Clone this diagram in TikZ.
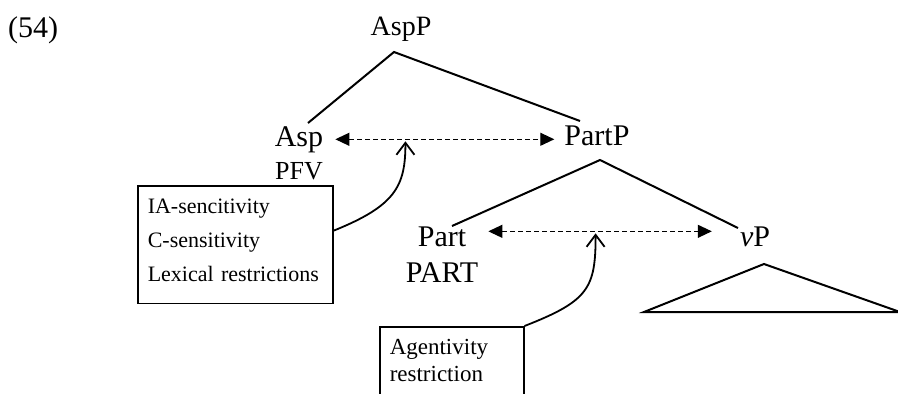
\documentclass[tikz,border=0pt]{standalone}
\usepackage{fontspec}
\setmainfont{Liberation Serif}
\usetikzlibrary{arrows.meta}

\begin{document}
\begin{tikzpicture}[x=1pt, y=-1pt,
    lbl/.style={anchor=base, inner sep=0pt},
    big/.style={font=\fontsize{30}{30}\selectfont},
    mid/.style={font=\fontsize{26}{26}\selectfont},
    branch/.style={line width=2pt},
    dep/.style={{Triangle[length=14pt,width=13pt]}-{Triangle[length=14pt,width=13pt]},
      dash pattern=on 5pt off 3pt, line width=1.1pt},
    feed/.style={-{Straight Barb[length=12pt,width=18pt]}, line width=1.8pt},
    infobox/.style={draw, line width=1.5pt, align=left, anchor=north west,
      inner xsep=10pt, inner ysep=13pt}]
  \useasboundingbox (0,0) rectangle (898,394);
  \clip (0,0) rectangle (898,394);
  % labels
  \node[lbl, big, anchor=base west] (ex) at (8,37) {(54)};
  \node[lbl, font=\fontsize{28}{28}\selectfont] (aspp) at (401,35) {AspP};
  \node[lbl, big] (asp) at (299,146) {Asp};
  \node[lbl, mid] (pfv) at (299,179) {PFV};
  \node[lbl, big] (partp) at (597,145) {PartP};
  \node[lbl, big] (part) at (442,246) {Part};
  \node[lbl, big] (partcat) at (442,282) {PART};
  \node[lbl, big] (vp) at (755,246) {\textit{v}P};
  % restriction boxes
  \node[infobox, text width=175pt, font=\fontsize{22}{34}\selectfont] (box1) at (137,185)
    {IA-sencitivity\\C-sensitivity\\Lexical restrictions\rule[-9pt]{0pt}{9pt}};
  \node[infobox, text width=124pt, font=\fontsize{23}{27}\selectfont] (box2) at (379,326)
    {Agentivity\\restriction\rule[-12pt]{0pt}{12pt}};
  % branches
  \coordinate (a0) at (394,52);
  \coordinate (a1) at (308,123);
  \coordinate (a2) at (580,121);
  \coordinate (b0) at (600,160);
  \coordinate (b1) at (452,226);
  \coordinate (b2) at (738,228);
  \draw[branch] (a1) -- (a0) -- (a2);
  \draw[branch] (b1) -- (b0) -- (b2);
  % vP triangle
  \coordinate (c0) at (764,264);
  \coordinate (c1) at (644,312);
  \coordinate (c2) at (900,312);
  \draw[branch, line join=miter] (c0) -- (c1) -- (c2) -- cycle;
  % dependencies
  \draw[dep] ([xshift=12pt]asp.east) -- coordinate[pos=0.32] (m1)
    ([xshift=-10pt]asp.east -| partp.west);
  \draw[dep] ([xshift=22pt, yshift=5pt]part.east) -- coordinate[pos=0.48] (m2)
    ([xshift=-28pt, yshift=5pt]part.east -| vp.west);
  \draw[feed] (box1.8) .. controls +(62,-25) and +(0,45) .. ([yshift=-2pt]m1);
  \draw[feed] (box2.north east) .. controls +(64,-25) and +(0,55) .. ([yshift=-2pt]m2);
\end{tikzpicture}
\end{document}
